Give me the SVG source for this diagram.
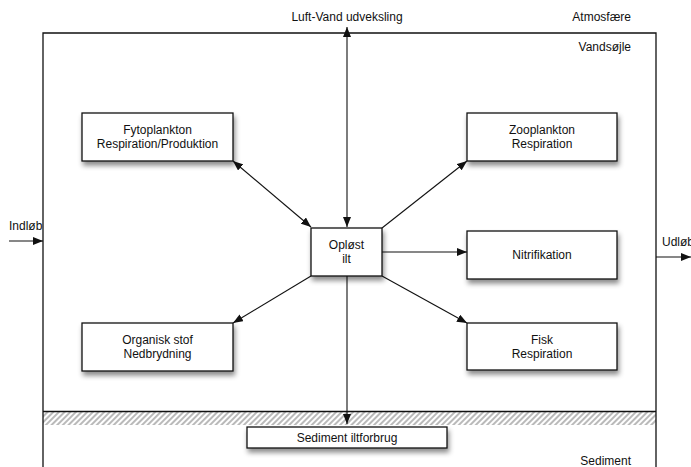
<svg xmlns="http://www.w3.org/2000/svg" width="691" height="467" viewBox="0 0 691 467">
  <style>
    text { font-family: "Liberation Sans", Arial, sans-serif; font-size: 12px; fill: #111; }
    .mid { text-anchor: middle; }
    .end { text-anchor: end; }
    .box { fill: #fff; stroke: #111; stroke-width: 1.3; filter: url(#shadow); }
    .frame { fill: none; stroke: #111; stroke-width: 1.3; }
    .edge { fill: none; stroke: #111; stroke-width: 1.1; }
  </style>
  <defs>
    <filter id="shadow" x="-20%" y="-30%" width="150%" height="180%">
      <feDropShadow dx="1.5" dy="4" stdDeviation="2.5" flood-color="#000" flood-opacity="0.45"/>
    </filter>
    <pattern id="hatch" width="4" height="4" patternUnits="userSpaceOnUse" patternTransform="rotate(45)">
      <rect width="4" height="4" fill="#fff"/>
      <line x1="1" y1="0" x2="1" y2="4" stroke="#a8a8a8" stroke-width="1.6"/>
    </pattern>
    <marker id="arrow" viewBox="0 0 10 8" refX="10" refY="4" markerWidth="10" markerHeight="8" markerUnits="userSpaceOnUse" orient="auto-start-reverse">
      <path d="M0,0 L10,4 L0,8 z" fill="#111"/>
    </marker>
  </defs>

  <!-- compartments: atmosphere / water column / sediment -->
  <g id="compartments">
    <rect x="43" y="412" width="613" height="13" fill="url(#hatch)"/>
    <line class="frame" x1="43" y1="411.5" x2="656" y2="411.5"/>
    <path class="frame" d="M43,467 V33 H656 V467"/>
    <text class="end" x="631" y="21">Atmosfære</text>
    <text class="end" x="631" y="51">Vandsøjle</text>
    <text class="end" x="631" y="465">Sediment</text>
    <text class="mid" x="347" y="21">Luft-Vand udveksling</text>
    <text x="9" y="230">Indløb</text>
    <text x="662" y="246">Udløb</text>
  </g>

  <!-- connectors -->
  <g id="connectors">
    <line class="edge" x1="347" y1="227" x2="347" y2="27" marker-start="url(#arrow)" marker-end="url(#arrow)"/>
    <line class="edge" x1="347" y1="276" x2="347" y2="424" marker-end="url(#arrow)"/>
    <line class="edge" x1="233" y1="161" x2="311" y2="227" marker-start="url(#arrow)" marker-end="url(#arrow)"/>
    <line class="edge" x1="382" y1="228" x2="467" y2="161" marker-end="url(#arrow)"/>
    <line class="edge" x1="382" y1="252" x2="467" y2="252" marker-end="url(#arrow)"/>
    <line class="edge" x1="382" y1="276" x2="467" y2="323" marker-end="url(#arrow)"/>
    <line class="edge" x1="311" y1="276" x2="233" y2="323" marker-end="url(#arrow)"/>
    <line class="edge" x1="9" y1="241" x2="43" y2="241" marker-end="url(#arrow)"/>
    <line class="edge" x1="656" y1="257" x2="691" y2="257" marker-end="url(#arrow)"/>
  </g>

  <g id="fytoplankton">
    <rect class="box" x="82" y="113" width="151" height="48"/>
    <text class="mid" x="157.5" y="134">Fytoplankton</text>
    <text class="mid" x="157.5" y="148">Respiration/Produktion</text>
  </g>
  <g id="zooplankton">
    <rect class="box" x="467" y="113" width="150" height="48"/>
    <text class="mid" x="542" y="134">Zooplankton</text>
    <text class="mid" x="542" y="148">Respiration</text>
  </g>
  <g id="oploest-ilt">
    <rect class="box" x="311" y="228" width="71" height="48"/>
    <text class="mid" x="346.5" y="249">Opløst</text>
    <text class="mid" x="346.5" y="263">ilt</text>
  </g>
  <g id="nitrifikation">
    <rect class="box" x="467" y="231" width="150" height="48"/>
    <text class="mid" x="542" y="259">Nitrifikation</text>
  </g>
  <g id="organisk-stof">
    <rect class="box" x="82" y="323" width="151" height="48"/>
    <text class="mid" x="157.5" y="344">Organisk stof</text>
    <text class="mid" x="157.5" y="358">Nedbrydning</text>
  </g>
  <g id="fisk">
    <rect class="box" x="467" y="323" width="150" height="47"/>
    <text class="mid" x="542" y="344">Fisk</text>
    <text class="mid" x="542" y="358">Respiration</text>
  </g>
  <g id="sediment-iltforbrug">
    <rect class="box" x="247" y="427" width="200" height="21"/>
    <text class="mid" x="347" y="442">Sediment iltforbrug</text>
  </g>
</svg>
